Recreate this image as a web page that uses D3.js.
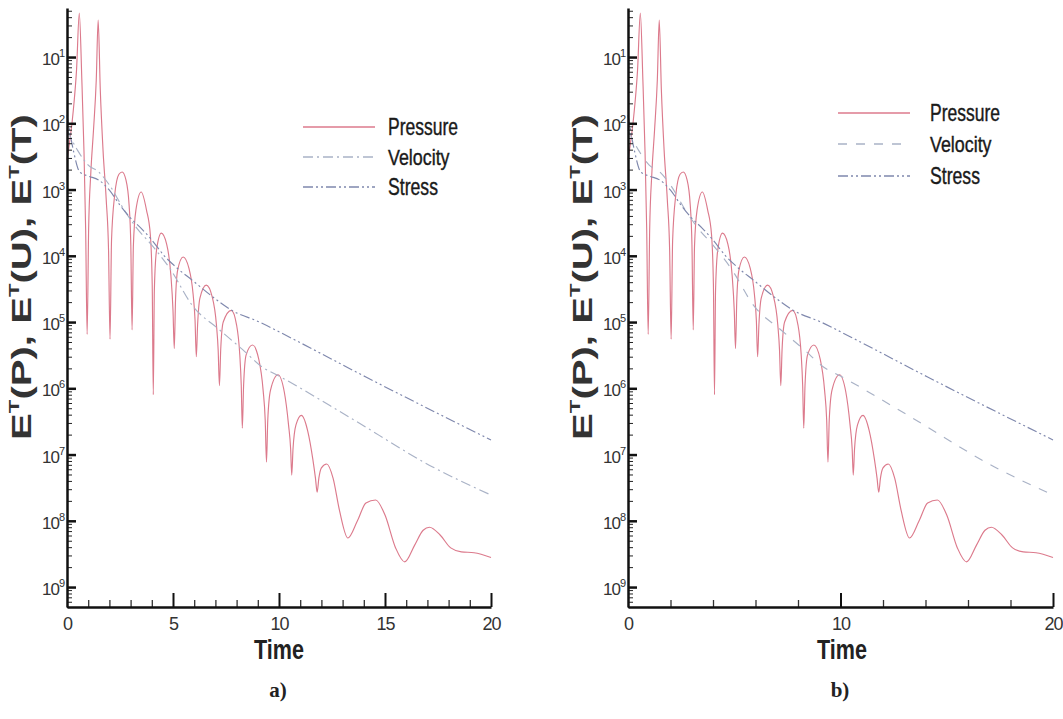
<!DOCTYPE html>
<html>
<head>
<meta charset="utf-8">
<script src="https://cdn.jsdelivr.net/npm/d3@7"></script>
<style>
body { margin: 0; background: #fff; }
svg { display: block; }
</style>
</head>
<body>
<div id="chart"></div>
<script>
// ---- data ----
var pressureTime = [0, 0.3, 0.45, 0.58, 0.7, 0.8, 0.88, 0.95, 1.02, 1.12, 1.25, 1.38, 1.47, 1.57, 1.7, 1.85, 1.96, 2.03,
    2.1, 2.25, 2.45, 2.6, 2.78, 2.93, 3.01, 3.07, 3.13, 3.25, 3.5, 3.75, 3.93, 4.02, 4.07,
    4.12, 4.22, 4.45, 4.7, 4.9, 5.0, 5.06,
    5.12, 5.22, 5.48, 5.75, 5.95, 6.04, 6.1,
    6.16, 6.27, 6.57, 6.85, 7.05, 7.13, 7.19,
    7.25, 7.37, 7.75, 8.0, 8.15, 8.22, 8.27,
    8.33, 8.45, 8.75, 9.05, 9.25, 9.35, 9.41,
    9.47, 9.6, 9.95, 10.25, 10.45, 10.55, 10.6,
    10.66, 10.8, 11.06, 11.35, 11.6, 11.72, 11.8,
    11.88, 12.0, 12.25, 12.55, 12.85, 13.25, 13.7, 14.1, 14.56, 15.0, 15.5, 15.93,
    16.4, 16.8, 17.1, 17.6, 18.1, 18.6, 19.2, 20];
var pressure = [2.8e-3, 1.6e-2, 6.4e-2, 4.6e-1, 4.5e-2, 3.9e-3, 2.5e-4, 6.5e-6, 2.5e-4, 1.7e-3, 7.9e-3, 4.5e-2, 3.6e-1, 3.2e-2, 3.9e-3, 7.0e-4, 1.2e-4, 5.5e-6,
    1.7e-4, 8.3e-4, 1.7e-3, 1.84e-3, 1.4e-3, 5.8e-4, 1.45e-4, 7.6e-6, 1.4e-4, 4.9e-4, 9.2e-4, 4.9e-4, 2.1e-4, 3.6e-5, 8.0e-7,
    3.0e-5, 1.2e-4, 2.2e-4, 1.5e-4, 5.1e-5, 1.5e-5, 4.0e-6,
    2.2e-5, 6.1e-5, 9.6e-5, 6.5e-5, 2.6e-5, 1.07e-5, 3.0e-6,
    9.0e-6, 2.3e-5, 3.6e-5, 2.4e-5, 9.0e-6, 3.8e-6, 1.1e-6,
    3.8e-6, 1.0e-5, 1.5e-5, 9.0e-6, 3.2e-6, 1.1e-6, 2.5e-7,
    1.1e-6, 3.2e-6, 4.5e-6, 2.7e-6, 9.4e-7, 3.3e-7, 7.7e-8,
    3.3e-7, 9.4e-7, 1.6e-6, 8.8e-7, 2.8e-7, 1.2e-7, 4.9e-8,
    1.2e-7, 2.8e-7, 3.9e-7, 2.3e-7, 8.3e-8, 4.4e-8, 2.7e-8,
    4.4e-8, 6.3e-8, 7.2e-8, 4.4e-8, 1.45e-8, 5.5e-9, 1.0e-8, 1.85e-8, 2.06e-8, 1.22e-8, 3.9e-9, 2.4e-9,
    4.3e-9, 7.2e-9, 8.0e-9, 6.1e-9, 3.9e-9, 3.4e-9, 3.3e-9, 2.8e-9];

var stressTime = [0, 0.3, 0.6, 1.0, 1.5, 2.0, 2.5, 3.0, 3.5, 4.0, 4.6, 5.2, 5.9, 6.95, 7.75, 9.08, 10.5, 14.1, 20];
var stress = [1.33e-2, 3.9e-3, 1.84e-3, 1.6e-3, 1.39e-3, 9.8e-4, 5.8e-4, 3.7e-4, 2.6e-4, 1.73e-4, 9.9e-5, 6.5e-5, 4.3e-5, 2.3e-5, 1.52e-5, 1.0e-5, 5.9e-6, 1.48e-6, 1.66e-7];

var velocityTime = [0, 0.5, 1.0, 1.5, 2.0, 2.7, 3.3, 4.0, 4.9, 5.9, 7.2, 8.3, 9.2, 10.0, 13.3, 17.25, 20];
var velocity = [7.9e-3, 3.9e-3, 2.34e-3, 1.84e-3, 1.17e-3, 4.9e-4, 2.6e-4, 1.45e-4, 6.1e-5, 1.8e-5, 7.6e-6, 3.8e-6, 2.1e-6, 1.53e-6, 3.7e-7, 6.5e-8, 2.45e-8];

var xMajorA = [0, 5, 10, 15, 20];
var xMinorA = [1, 2, 3, 4, 6, 7, 8, 9, 11, 12, 13, 14, 16, 17, 18, 19];
var xMajorB = [0, 10, 20];
var xMinorB = [2, 4, 6, 8, 12, 14, 16, 18];
var yDecades = [1e-1, 1e-2, 1e-3, 1e-4, 1e-5, 1e-6, 1e-7, 1e-8, 1e-9];
var yExponentLabels = ["1", "2", "3", "4", "5", "6", "7", "8", "9"];
var seriesNames = ["Pressure", "Velocity", "Stress"];

// ---- layout ----
var chartW = 1063, chartH = 719;
var plotTop = 8, plotBottom = 607;
var sansFont = "'Liberation Sans', Arial, Helvetica, sans-serif";

var panels = [
    { left: 67, right: 491, xMajor: xMajorA, xMinor: xMinorA, titleX: 22,
      legendX: 303, legendY: [127, 157, 187], legendTextX: 388,
      timeX: 279, capX: 278, caption: "a)",
      dashes: [null, "10,4,2,4", "10,3,2,3,2,3"] },
    { left: 628, right: 1053, xMajor: xMajorB, xMinor: xMinorB, titleX: 583,
      legendX: 838, legendY: [113, 144, 176], legendTextX: 930,
      timeX: 842, capX: 840, caption: "b)",
      dashes: [null, "9,9", "10,3,2,3,2,3"] }
];
var colors = ["#dc7a8c", "#a9b2c6", "#7f88ad"];

var svg = d3.select("#chart").append("svg")
    .attr("width", chartW)
    .attr("height", chartH);

var y = d3.scaleLog()
    .domain([5e-10, 0.55])
    .range([plotBottom, plotTop]);

// squeeze a text node horizontally to a target width
function squeeze(txt, w) {
    var bw = txt.node().getBBox().width;
    txt.attr("transform", "scale(" + (w / bw) + ",1)");
}

panels.forEach(function(p) {
    var x = d3.scaleLinear().domain([0, 20]).range([p.left, p.right]);
    var g = svg.append("g");

    // curves
    var sets = [
        [pressureTime, pressure],
        [velocityTime, velocity],
        [stressTime, stress]
    ];
    var line = d3.line()
        .x(function(d) { return x(d[0]); })
        .y(function(d) { return y(d[1]); })
        .curve(d3.curveMonotoneX);

    sets.forEach(function(s, i) {
        var pts = s[0].map(function(t, k) { return [t, s[1][k]]; });
        g.append("path")
            .datum(pts)
            .attr("fill", "none")
            .attr("stroke", colors[i])
            .attr("stroke-width", 1.15)
            .attr("stroke-dasharray", p.dashes[i])
            .attr("d", line);
    });

    // y axis: minor, then major ticks pointing inwards
    var yMinor = y.ticks().filter(function(v) { return yDecades.indexOf(v) < 0; });
    g.append("g")
        .attr("transform", "translate(" + p.left + ",0)")
        .call(d3.axisLeft(y).tickValues(yMinor).tickSize(-5).tickFormat(""))
        .call(function(a) { a.select(".domain").remove(); a.selectAll("line").attr("stroke", "#222").attr("stroke-width", 1); });
    g.append("g")
        .attr("transform", "translate(" + p.left + ",0)")
        .call(d3.axisLeft(y).tickValues(yDecades).tickSize(-9).tickSizeOuter(0).tickFormat(""))
        .call(function(a) {
            a.select(".domain").attr("stroke", "#111").attr("stroke-width", 2.5);
            a.selectAll("line").attr("stroke", "#111").attr("stroke-width", 2.5);
        });

    // y tick labels with superscripts
    yDecades.forEach(function(v, i) {
        var t = g.append("text")
            .attr("x", p.left - 3)
            .attr("y", y(v) + 8)
            .attr("text-anchor", "end")
            .attr("font-family", sansFont)
            .attr("font-size", 17)
            .attr("letter-spacing", -1)
            .attr("fill", "#333");
        t.append("tspan").text("10");
        t.append("tspan").attr("font-size", 11).attr("dy", -8).text(yExponentLabels[i]);
    });

    // x axis
    g.append("g")
        .attr("transform", "translate(0," + plotBottom + ")")
        .call(d3.axisBottom(x).tickValues(p.xMinor).tickSize(-7).tickFormat(""))
        .call(function(a) { a.select(".domain").remove(); a.selectAll("line").attr("stroke", "#333").attr("stroke-width", 1.3); });
    g.append("g")
        .attr("transform", "translate(0," + plotBottom + ")")
        .call(d3.axisBottom(x).tickValues(p.xMajor).tickSize(-14).tickSizeOuter(0).tickPadding(10))
        .call(function(a) {
            a.select(".domain").attr("stroke", "#111").attr("stroke-width", 2.5);
            a.selectAll("line").attr("stroke", "#111").attr("stroke-width", 2);
            a.selectAll(".tick").filter(function(d) { return d == 0; }).select("line").remove();
            a.selectAll("text")
                .attr("font-family", sansFont)
                .attr("font-size", 18)
                .attr("letter-spacing", -1)
                .attr("fill", "#333")
                .attr("y", 10);
        });

    // y axis title
    var tg = g.append("g").attr("transform", "translate(" + p.titleX + ",277) rotate(-90)");
    var tt = tg.append("text")
        .attr("text-anchor", "middle")
        .attr("dominant-baseline", "central")
        .attr("font-family", sansFont)
        .attr("font-weight", "bold")
        .attr("font-size", 27)
        .attr("fill", "#333");
    ["P", "U", "T"].forEach(function(c, i) {
        tt.append("tspan").text((i > 0 ? ",  " : "") + "E");
        tt.append("tspan").attr("font-size", 15).attr("dy", -9).text("T");
        tt.append("tspan").attr("dy", 9).text("(" + c + ")");
    });
    squeeze(tt, 326);

    // x axis title
    var xg = g.append("g").attr("transform", "translate(" + p.timeX + ",659)");
    var xt = xg.append("text")
        .attr("text-anchor", "middle")
        .attr("font-family", sansFont)
        .attr("font-weight", "bold")
        .attr("font-size", 27)
        .attr("fill", "#222")
        .text("Time");
    squeeze(xt, 50);

    // caption
    g.append("text")
        .attr("x", p.capX)
        .attr("y", 697)
        .attr("text-anchor", "middle")
        .attr("font-family", "'Liberation Serif', 'Times New Roman', serif")
        .attr("font-weight", "bold")
        .attr("font-size", 21)
        .attr("fill", "#222")
        .text(p.caption);

    // legend
    seriesNames.forEach(function(name, i) {
        g.append("line")
            .attr("x1", p.legendX)
            .attr("x2", p.legendX + 72)
            .attr("y1", p.legendY[i])
            .attr("y2", p.legendY[i])
            .attr("stroke", colors[i])
            .attr("stroke-width", 1.3)
            .attr("stroke-dasharray", p.dashes[i]);
        var lg = g.append("g").attr("transform", "translate(" + p.legendTextX + "," + (p.legendY[i] + 8) + ")");
        var lt = lg.append("text")
            .attr("font-family", sansFont)
            .attr("font-size", 23)
            .attr("fill", "#1a1a1a")
            .attr("stroke", "#1a1a1a")
            .attr("stroke-width", 0.4)
            .text(name);
        squeeze(lt, name == "Pressure" ? 70 : (name == "Velocity" ? 62 : 50));
    });
});
</script>
</body>
</html>
